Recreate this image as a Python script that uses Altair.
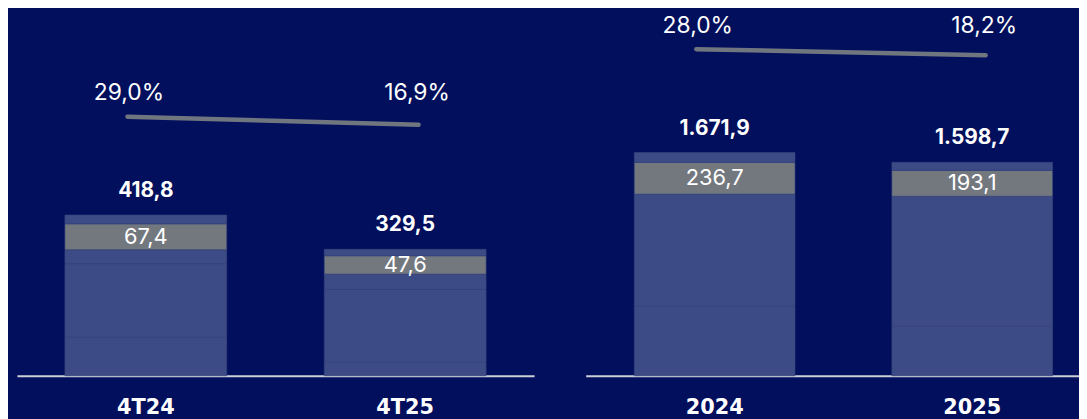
import altair as alt
import pandas as pd

# ---- data ----
periods = ["4T24", "4T25", "2024", "2025"]
panels = ["q", "q", "y", "y"]
seg_base1 = [100.8, 36.2, 522.4, 373.1]
seg_base2 = [191.3, 188.7, 838.1, 970.9]
seg_base3 = [36.2, 40.0, 0.0, 0.0]
seg_gray = [67.4, 47.6, 236.7, 193.1]
seg_top = [23.1, 17.0, 74.7, 61.6]
totals = [418.8, 329.5, 1671.9, 1598.7]
total_labels = ["418,8", "329,5", "1.671,9", "1.598,7"]
gray_labels = ["67,4", "47,6", "236,7", "193,1"]
margins = [29.0, 16.9, 28.0, 18.2]
margin_labels = ["29,0%", "16,9%", "28,0%", "18,2%"]

BG = "#020F5C"
BLUE = "#3C4A85"
GRAY = "#73787F"
LINE = "#70767F"

seg_names = ["b1", "b2", "b3", "gray", "top"]
seg_cols = [seg_base1, seg_base2, seg_base3, seg_gray, seg_top]

rows = []
for i, p in enumerate(periods):
    for k, (name, col) in enumerate(zip(seg_names, seg_cols)):
        if col[i] > 0:
            rows.append({"period": p, "panel": panels[i], "seg": name,
                         "value": col[i], "order": k})
segs = pd.DataFrame(rows)

info = pd.DataFrame({
    "period": periods,
    "panel": panels,
    "total": totals,
    "total_label": total_labels,
    "gray_mid": [seg_base1[i] + seg_base2[i] + seg_base3[i] + seg_gray[i] / 2
                 for i in range(4)],
    "gray_label": gray_labels,
    "margin": margins,
    "margin_label": margin_labels,
    "pos": [0, 1, 0, 1],
})
info["margin_max"] = info.groupby("panel")["margin"].transform("max")

lines = pd.DataFrame({
    "panel": ["q", "y"],
    "p1": [periods[0], periods[2]],
    "p2": [periods[1], periods[3]],
    "m1": [margins[0], margins[2]],
    "m2": [margins[1], margins[3]],
})

H = 369

XAXIS = alt.Axis(labelAngle=0, ticks=False, tickSize=0, grid=False,
                 labelPadding=21, labelFontSize=21,
                 labelFont="DejaVu Sans", labelFontWeight="bold",
                 labelColor="#FFFFFF", domainColor="#CDD0D8",
                 domainWidth=2, title=None)


def panel(pn, cats, width, ydom, pdom, xscale_kw):
    xs = alt.Scale(domain=cats, paddingInner=0.376, round=False, **xscale_kw)
    ys = alt.Scale(domain=ydom, nice=False, zero=False)
    ps = alt.Scale(domain=pdom, nice=False, zero=False)
    seg = segs[segs.panel == pn]
    inf = info[info.panel == pn]
    ln = lines[lines.panel == pn]

    def X(field):
        return alt.X(field, scale=xs, sort=cats, title=None, axis=XAXIS)

    bars = alt.Chart(seg).mark_bar(stroke="#36437C", strokeWidth=0.6).encode(
        x=X("period:N"),
        y=alt.Y("value:Q", stack="zero", scale=ys, axis=None),
        color=alt.Color("seg:N", scale=alt.Scale(
            domain=seg_names, range=[BLUE, BLUE, BLUE, GRAY, BLUE]), legend=None),
        order=alt.Order("order:Q"),
    )
    tot = alt.Chart(inf).mark_text(
        font="Inter", fontSize=21, fontWeight="bold", color="#FFFFFF",
        baseline="alphabetic", dy=-18).encode(
        x=X("period:N"),
        y=alt.Y("total:Q", scale=ys, axis=None),
        text="total_label:N",
    )
    gtxt = alt.Chart(inf).mark_text(
        font="Inter", fontSize=22, color="#FFFFFF", baseline="middle").encode(
        x=X("period:N"),
        y=alt.Y("gray_mid:Q", scale=ys, axis=None),
        text="gray_label:N",
    )
    rule = alt.Chart(ln).mark_rule(
        color=LINE, strokeWidth=4.5, strokeCap="round",
        xOffset=-18.5, x2Offset=13.5).encode(
        x=X("p1:N"),
        x2="p2:N",
        y=alt.Y("m1:Q", scale=ps, axis=None),
        y2="m2:Q",
    )
    pct0 = alt.Chart(inf[inf.pos == 0]).mark_text(
        font="Inter", fontSize=23, color="#FFFFFF", baseline="middle",
        dx=-17, dy=-23.5).encode(
        x=X("period:N"),
        y=alt.Y("margin_max:Q", scale=ps, axis=None),
        text="margin_label:N",
    )
    pct1 = alt.Chart(inf[inf.pos == 1]).mark_text(
        font="Inter", fontSize=23, color="#FFFFFF", baseline="middle",
        dx=12, dy=-23.5).encode(
        x=X("period:N"),
        y=alt.Y("margin_max:Q", scale=ps, axis=None),
        text="margin_label:N",
    )
    return alt.layer(bars, rule, tot, gtxt, pct0, pct1).resolve_scale(
        y="independent").properties(width=width, height=H)


left = panel("q", periods[:2], 521, [0, 954.0], [-365.7, 192.3],
             {"paddingOuter": 0.185})
right = panel("y", periods[2:], 497, [0, 2741.9], [-509.4, 93.3],
              {"paddingOuter": 0.1456, "align": 0.648})

chart = alt.hconcat(left, right, spacing=52).properties(
    padding={"left": 9, "top": 0, "right": 0, "bottom": 0},
    background=BG,
).configure_view(stroke=None)

chart.save("out.html", embed_options={"renderer": "svg", "actions": False})
